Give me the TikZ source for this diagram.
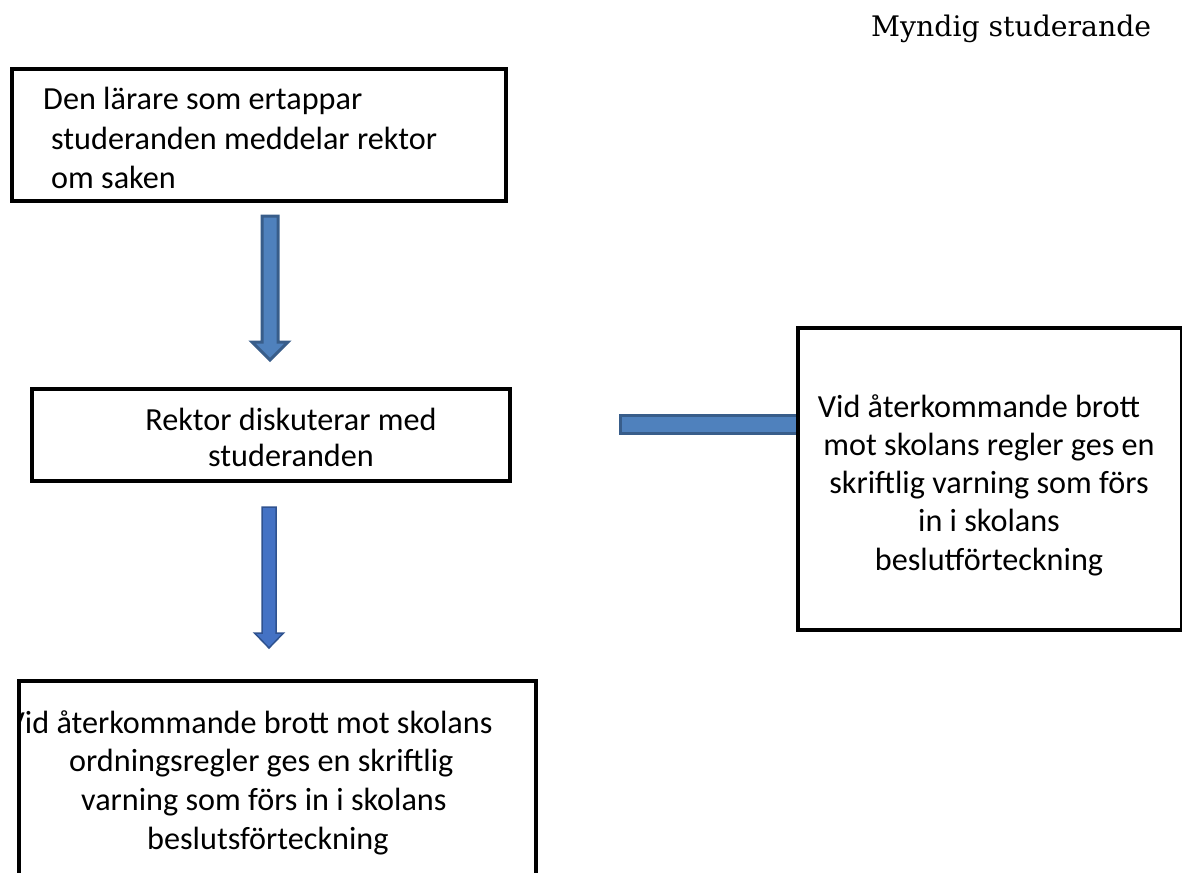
\documentclass[tikz,border=0pt]{standalone}
\usepackage{fontspec}
\setmainfont{Carlito}
\newfontfamily\titlefont{DejaVu Serif}
\usetikzlibrary{calc}
\definecolor{arrfillA}{HTML}{4F81BD}
\definecolor{arrdrawA}{HTML}{385D8A}
\definecolor{arrfillB}{HTML}{4472C4}
\definecolor{arrdrawB}{HTML}{2F528F}
\tikzset{
  box/.style={draw=black, line width=4pt, fill=white, inner sep=0pt},
  txt/.style={inner sep=0pt, font=\fontsize{32.2}{38.3}\selectfont},
  arrowA/.style={fill=arrfillA, draw=arrdrawA, line width=3pt, line join=miter},
  arrowB/.style={fill=arrfillB, draw=arrdrawB, line width=1.5pt, line join=miter},
}
\begin{document}
\begin{tikzpicture}[x=1pt,y=-1pt]
\useasboundingbox (0,0) rectangle (1182,872);
% title
\node[anchor=base west, inner sep=0pt, font=\titlefont\fontsize{28.3}{34}\selectfont] (title) at (871,37) {Myndig studerande};
% arrows (drawn first)
\coordinate (a1top) at (270,216);
\coordinate (a1tip) at (270,360);
\draw[arrowA] ($(a1top)+(-8,0)$) -- ($(a1top)+(8,0)$) -- ($(a1tip)+(8,-18)$) -- ($(a1tip)+(18,-18)$) -- (a1tip) -- ($(a1tip)+(-18,-18)$) -- ($(a1tip)+(-8,-18)$) -- cycle;
\coordinate (a2top) at (269,507);
\coordinate (a2tip) at (269,648);
\draw[arrowB] ($(a2top)+(-7,0)$) -- ($(a2top)+(7,0)$) -- ($(a2tip)+(7,-15)$) -- ($(a2tip)+(14.5,-15)$) -- (a2tip) -- ($(a2tip)+(-14.5,-15)$) -- ($(a2tip)+(-7,-15)$) -- cycle;
\coordinate (h1) at (620,424);
\coordinate (h2) at (806,424);
\draw[arrowA] ($(h1)+(0,-9)$) rectangle ($(h2)+(0,9)$);
% boxes
\node[box, minimum width=494pt, minimum height=132pt] (b1) at (259,135) {};
\node[txt, anchor=north west, align=left, font=\fontsize{32.2}{39.5}\selectfont] (t1) at (43,87) {Den lärare som ertappar\\\hspace*{8pt}studeranden meddelar rektor\\\hspace*{8pt}om saken};
\node[box, minimum width=478pt, minimum height=92pt] (b2) at (271,435) {};
\node[txt, anchor=north, align=center, font=\fontsize{32.2}{36}\selectfont] (t2) at (291,408) {Rektor diskuterar med\\studeranden};
\node[box, minimum width=384pt, minimum height=302pt] (b3) at (990,479) {};
\node[txt, anchor=north, align=center] (t3) at (989,394) {Vid återkommande brott\hspace*{20pt}\\mot skolans regler ges en\\skriftlig varning som förs\\in i skolans\\beslutförteckning};
\node[box, minimum width=517pt, minimum height=219pt] (b4) at (277.5,790.5) {};
\begin{scope}
  \clip (19,683) rectangle (534,880);
  \node[txt, anchor=north west, align=left, font=\fontsize{32.2}{38.7}\selectfont] (t4) at (6.5,710) {Vid återkommande brott mot skolans\\\hspace*{62.5pt}ordningsregler ges en skriftlig\\\hspace*{74.5pt}varning som förs in i skolans\\\hspace*{140.5pt}beslutsförteckning};
\end{scope}
\end{tikzpicture}
\end{document}
